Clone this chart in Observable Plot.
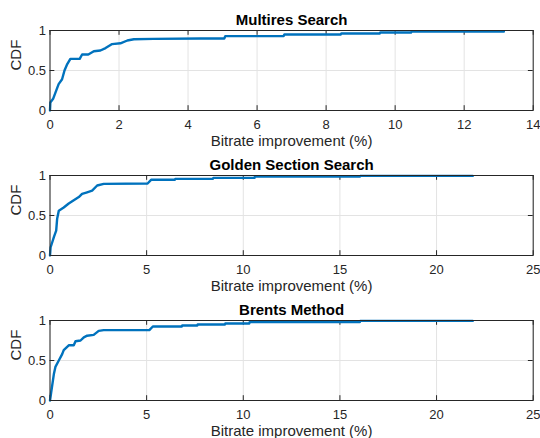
<!DOCTYPE html>
<html>
<head>
<meta charset="utf-8">
<script src="https://cdn.jsdelivr.net/npm/d3@7"></script>
<script src="https://cdn.jsdelivr.net/npm/@observablehq/plot@0.6"></script>
<style>
  html, body { margin: 0; padding: 0; background: #fff; }
  #chart { position: relative; width: 540px; height: 438px; overflow: hidden; background: #fff; }
  #chart > .panel { position: absolute; left: 0; }
  #chart svg { overflow: visible; display: block; }
</style>
</head>
<body>
<div id="chart"></div>
<script>
// ---- data ----
const titles = ["Multires Search", "Golden Section Search", "Brents Method"];
const xLabel = "Bitrate improvement (%)";
const yLabel = "CDF";

const multiresX = [0, 0.01, 0.09, 0.25, 0.35, 0.42, 0.50, 0.59, 0.86, 0.93, 1.11, 1.27, 1.46, 1.61, 1.80, 2.04, 2.24, 2.43, 3.0, 4.36, 5.05, 5.08, 6.77, 6.79, 8.42, 8.44, 9.55, 9.57, 10.46, 10.48, 13.15];
const multiresY = [0, 0.10, 0.146, 0.33, 0.39, 0.50, 0.58, 0.645, 0.645, 0.70, 0.70, 0.74, 0.75, 0.78, 0.83, 0.84, 0.875, 0.89, 0.895, 0.90, 0.90, 0.93, 0.93, 0.95, 0.95, 0.9625, 0.9625, 0.975, 0.975, 0.9875, 0.9875];

const goldenX = [0, 0.03, 0.20, 0.32, 0.37, 0.455, 0.71, 0.97, 1.23, 1.49, 1.66, 1.92, 2.18, 2.44, 2.78, 5.05, 5.23, 6.46, 6.48, 8.43, 8.45, 10.58, 10.6, 16.03, 16.05, 21.87];
const goldenY = [0, 0.10, 0.23, 0.31, 0.46, 0.56, 0.60, 0.65, 0.69, 0.73, 0.77, 0.79, 0.81, 0.875, 0.895, 0.90, 0.946, 0.946, 0.958, 0.958, 0.97, 0.97, 0.9875, 0.9875, 0.995, 0.995];

const brentsX = [0, 0.06, 0.20, 0.28, 0.455, 0.63, 0.71, 0.97, 1.23, 1.32, 1.58, 1.75, 1.92, 2.26, 2.52, 2.78, 5.14, 5.32, 6.82, 6.84, 7.62, 7.64, 9.05, 9.07, 10.31, 10.33, 16.03, 16.05, 21.87];
const brentsY = [0, 0.10, 0.33, 0.42, 0.50, 0.58, 0.63, 0.69, 0.69, 0.74, 0.75, 0.79, 0.81, 0.82, 0.87, 0.88, 0.88, 0.925, 0.925, 0.9375, 0.9375, 0.95, 0.95, 0.9625, 0.9625, 0.98, 0.98, 0.995, 0.995];

const multiresTicks = [0, 2, 4, 6, 8, 10, 12, 14];
const fiveTicks = [0, 5, 10, 15, 20, 25];
const yTicks = [0, 0.5, 1];

// ---- drawing ----
const font = "'Liberation Sans', Arial, Helvetica, sans-serif";
const lineColor = "#0072BD";
const axisColor = "#262626";
const gridColor = "#e3e3e3";

const panels = [
  {title: titles[0], xs: multiresX, ys: multiresY, ticks: multiresTicks},
  {title: titles[1], xs: goldenX, ys: goldenY, ticks: fiveTicks},
  {title: titles[2], xs: brentsX, ys: brentsY, ticks: fiveTicks}
];

const root = document.getElementById("chart");
panels.forEach((p, i) => {
  const data = p.xs.map((x, j) => ({x, y: p.ys[j]}));
  const xMax = p.ticks[p.ticks.length - 1];
  const tickLenX = 0.06;           // fraction of y domain
  const tickLenY = xMax * 0.01;    // fraction of x domain
  const svg = Plot.plot({
    width: 540,
    height: 145,
    marginTop: 30,
    marginBottom: 35,
    marginLeft: 49.5,
    marginRight: 7.3,
    style: {fontFamily: font, color: axisColor, background: "transparent", overflow: "visible"},
    x: {domain: [0, xMax], axis: null},
    y: {domain: [0, 1], axis: null},
    marks: [
      Plot.gridX(p.ticks, {stroke: gridColor, strokeOpacity: 1}),
      Plot.gridY(yTicks, {stroke: gridColor, strokeOpacity: 1}),
      Plot.ruleX(p.ticks, {x: d => d, y1: 0, y2: tickLenX, stroke: axisColor}),
      Plot.ruleX(p.ticks, {x: d => d, y1: 1, y2: 1 - tickLenX, stroke: axisColor}),
      Plot.ruleY(yTicks, {y: d => d, x1: 0, x2: tickLenY, stroke: axisColor}),
      Plot.ruleY(yTicks, {y: d => d, x1: xMax, x2: xMax - tickLenY, stroke: axisColor}),
      Plot.line(data, {x: "x", y: "y", stroke: lineColor, strokeWidth: 2.4, strokeLinejoin: "round"}),
      Plot.frame({stroke: axisColor, strokeWidth: 1}),
      Plot.axisX(p.ticks, {anchor: "bottom", tickSize: 0, tickPadding: 9, fontSize: 13, label: null, tickFormat: d => String(d)}),
      Plot.axisY(yTicks, {anchor: "left", tickSize: 0, tickPadding: 4, fontSize: 13, label: null, tickFormat: d => String(d)}),
      Plot.text([p.title], {text: d => d, frameAnchor: "top", dy: -6, lineAnchor: "bottom", fontSize: 15, fontWeight: "bold", fill: "#000"}),
      Plot.text([xLabel], {text: d => d, frameAnchor: "bottom", dy: 35.5, lineAnchor: "bottom", fontSize: 15}),
      Plot.text([yLabel], {text: d => d, frameAnchor: "left", rotate: -90, dx: -28.6, lineAnchor: "bottom", fontSize: 15})
    ]
  });
  const wrap = document.createElement("div");
  wrap.className = "panel";
  wrap.style.top = (i * 145) + "px";
  wrap.appendChild(svg);
  root.appendChild(wrap);
});
</script>
</body>
</html>
